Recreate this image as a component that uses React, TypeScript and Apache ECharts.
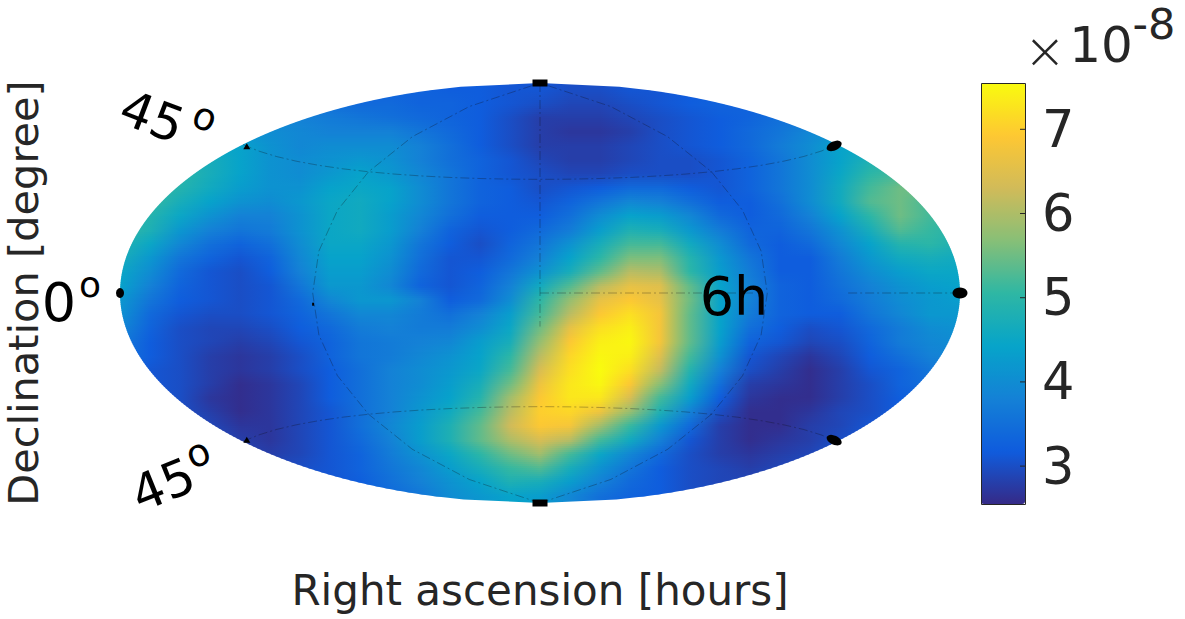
import React, { useEffect, useRef } from "react";
import * as echarts from "echarts";

// Sky map values (units of 1e-9): one row per band, north to south,
// 29 samples per row, west to east across the Hammer ellipse.
const skyRows: number[][] = [
  [33,33,33,33,33,33,33,33,33,33,33,32,32,31,31,30,30,31,31,32,32,32,32,32,32,32,32,32,32],
  [36,36,36,36,36,36,36,35,34,34,33,33,32,31,30,29,29,30,31,32,33,33,34,34,34,34,34,34,34],
  [39,39,39,39,39,39,38,37,36,35,34,33,32,30,28,28,28,29,30,31,32,33,35,36,37,37,37,37,37],
  [42,42,42,42,41,40,39,38,38,38,36,34,32,30,28,27,27,28,30,31,32,34,36,39,41,41,41,41,41],
  [46,46,46,45,44,41,39,40,40,40,38,35,32,30,28,28,28,29,30,31,32,34,37,40,44,45,45,45,45],
  [49,49,48,47,44,41,40,41,42,41,38,35,33,31,29,28,28,29,30,30,31,33,36,40,44,48,50,50,50],
  [50,50,50,47,44,41,40,42,44,42,39,36,33,31,30,29,29,30,30,30,31,33,36,40,45,50,52,52,52],
  [51,51,49,46,43,41,41,44,45,44,40,36,33,32,30,31,32,34,34,32,31,33,36,40,46,52,55,55,55],
  [51,51,47,44,41,40,42,45,46,44,40,36,33,32,31,33,36,39,38,35,32,32,35,40,46,53,55,52,52],
  [50,49,45,41,38,38,41,45,46,43,39,35,32,32,32,35,40,44,43,39,34,32,34,38,44,50,55,52,50],
  [51,48,42,38,36,37,41,45,46,43,38,33,31,32,34,37,43,48,47,42,37,33,33,36,41,47,53,51,49],
  [49,45,39,35,33,35,40,45,45,42,36,32,30,33,36,41,47,52,52,46,40,34,32,34,39,44,49,50,48],
  [47,42,36,33,31,33,39,44,44,41,35,31,31,34,38,44,50,56,56,49,42,36,32,32,37,42,46,47,46],
  [45,40,34,31,30,32,38,43,43,40,34,31,32,36,41,47,54,61,60,50,43,37,32,32,36,40,43,45,45],
  [44,38,33,31,30,31,36,42,42,39,33,31,33,38,46,53,61,66,65,54,44,38,33,32,35,38,41,43,44],
  [42,36,32,31,30,31,34,39,42,42,38,32,34,40,50,58,66,69,66,55,44,38,33,32,34,37,40,42,43],
  [41,34,31,30,30,31,33,36,39,39,37,35,38,43,52,61,69,72,68,54,44,37,33,32,32,36,39,42,42],
  [39,33,30,29,29,30,32,34,37,38,37,37,40,45,55,66,72,74,68,54,44,35,32,30,31,34,37,40,41],
  [37,32,30,29,28,29,31,33,36,37,38,39,43,47,58,69,74,75,68,54,43,33,31,29,30,33,37,39,40],
  [36,32,30,28,27,28,30,33,36,37,39,41,44,50,61,71,75,74,65,52,41,31,29,27,29,32,35,38,39],
  [35,31,30,28,27,28,30,32,35,38,40,42,45,52,64,72,76,72,62,49,38,30,28,26,28,31,33,36,37],
  [34,31,30,28,26,27,29,32,35,38,40,43,47,55,67,73,75,69,57,46,35,28,27,26,28,30,33,35,36],
  [33,31,30,27,26,27,29,32,35,38,41,44,49,59,69,73,73,64,52,43,32,27,26,26,28,30,32,33,33],
  [32,31,30,28,26,27,29,31,35,38,42,46,52,61,70,71,67,58,48,38,30,26,26,27,29,30,32,32,32],
  [32,32,31,29,27,27,29,31,35,39,43,48,54,63,69,68,59,51,42,34,28,26,26,28,29,31,31,31,31],
  [32,32,31,30,28,27,29,31,34,38,43,48,54,60,64,61,52,46,38,31,28,26,27,28,30,31,31,31,31],
  [31,31,31,31,29,28,29,31,33,37,41,45,50,55,59,52,45,39,34,30,28,27,28,29,31,31,31,31,31],
  [31,31,31,31,30,29,30,31,33,36,39,43,47,51,53,47,41,36,32,30,29,28,29,30,31,31,31,31,31],
  [31,31,31,31,31,31,31,31,32,35,38,41,44,48,47,43,38,34,32,30,29,29,30,31,31,31,31,31,31],
  [31,31,31,31,31,31,31,32,33,34,36,40,42,44,43,39,35,33,32,30,30,30,31,31,31,31,31,31,31],
];

const colorStops = ["#352a87", "#0f5cdd", "#1481d6", "#06a4ca", "#2eb7a4", "#87bf77", "#d1bb59", "#fec832", "#f9fb0e"];
const barMin = 2.55;
const barMax = 7.55;
const barTicks = [3, 4, 5, 6, 7];

const gridLongitudes = [-90, 90];
const gridParallels = [45, -45];
const gridStepLats = [-90, -75, -60, -45, -30, -15, 0, 15, 30, 45, 60, 75, 90];
const gridStepLons = [-180, -165, -150, -135, -120, -105, -90, -75, -60, -45, -30, -15, 0, 15, 30, 45, 60, 75, 90, 105, 120, 135, 150, 165, 180];
const centralMeridianLats = [90, 75, 60, 45, 30, 15, 0, -10, -13];
const equatorSegments = [[0, 15, 30, 45, 60, 75, 85], [125, 135, 150, 165, 180]];

const markers = [
  { lon: 0, lat: 90, symbol: "rect", size: [15, 7], rotate: 0 },
  { lon: 0, lat: -90, symbol: "rect", size: [15, 7], rotate: 0 },
  { lon: -180, lat: 0, symbol: "circle", size: [8, 10], rotate: 0 },
  { lon: 180, lat: 0, symbol: "circle", size: [15, 11], rotate: 0 },
  { lon: 177, lat: 45, symbol: "circle", size: [16, 9], rotate: 25 },
  { lon: 177, lat: -45, symbol: "circle", size: [16, 9], rotate: -25 },
  { lon: -176, lat: 45, symbol: "triangle", size: [7, 6], rotate: 0 },
  { lon: -176, lat: -45, symbol: "triangle", size: [7, 6], rotate: 0 },
  { lon: -90, lat: -4, symbol: "rect", size: [2, 3], rotate: 0 },
];

const COLS = 28;
const ROWS = 30;
const SHADE_STEPS = 7;

function hammer(lon: number, lat: number): [number, number] {
  const l = (lon * Math.PI) / 180;
  const p = (lat * Math.PI) / 180;
  const d = Math.sqrt(1 + Math.cos(p) * Math.cos(l / 2));
  const nx = (Math.cos(p) * Math.sin(l / 2)) / d;
  const ny = Math.sin(p) / d;
  return [COLS / 2 + (COLS / 2) * nx, ROWS / 2 - (ROWS / 2) * ny];
}

function hexToRgb(h: string) {
  return [parseInt(h.slice(1, 3), 16), parseInt(h.slice(3, 5), 16), parseInt(h.slice(5, 7), 16)];
}

function rgbOf(v: number) {
  const t = Math.max(0, Math.min(1, (v - barMin) / (barMax - barMin))) * (colorStops.length - 1);
  const i = Math.min(colorStops.length - 2, Math.floor(t));
  const a = hexToRgb(colorStops[i]);
  const b = hexToRgb(colorStops[i + 1]);
  const f = t - i;
  return a.map((c, k) => c + (b[k] - c) * f);
}

function halfWidth(row: number) {
  const r = Math.min(1, Math.abs(row - ROWS / 2) / (ROWS / 2));
  return (COLS / 2) * Math.sqrt(1 - r * r);
}

const gridLine = (data: number[][]) => ({
  type: "line",
  xAxisIndex: 0,
  yAxisIndex: 0,
  data,
  showSymbol: false,
  silent: true,
  z: 3,
  lineStyle: { color: "#101018", width: 0.6, opacity: 0.5, type: [9, 3, 2, 3] },
});

const deg = (x: number, y: number, rot: number, size: number, text: string) => ({
  type: "text",
  x,
  y,
  rotation: (rot * Math.PI) / 180,
  z: 50,
  style: { text, fontSize: size, fontFamily: "DejaVu Sans", fill: "#000", align: "center", verticalAlign: "middle" },
});

const dark = (x: number, y: number, size: number, text: string, family = "DejaVu Sans") => ({
  type: "text",
  x,
  y,
  z: 50,
  style: { text, fontSize: size, fontFamily: family, fill: "#262626", align: "center", verticalAlign: "middle" },
});

export default function App() {
  const ref = useRef<HTMLDivElement>(null);
  useEffect(() => {
    document.body.style.margin = "0";
    const chart = echarts.init(ref.current!, undefined, { renderer: "svg" });
    // Shading bands: each is a thin strip between two table rows, coloured by mixing the two rows' colours.
    const shadeBands: number[][] = [];
    shadeBands.push([0, 0.5, 0, 0, 0]);
    for (let i = 0; i < skyRows.length - 1; i++) {
      for (let s = 0; s < SHADE_STEPS; s++) {
        shadeBands.push([i + 0.5 + s / SHADE_STEPS, i + 0.5 + (s + 1) / SHADE_STEPS, i, i + 1, (s + 0.5) / SHADE_STEPS]);
      }
    }
    shadeBands.push([ROWS - 0.5, ROWS, ROWS - 1, ROWS - 1, 0]);
    const mapSeries = {
      type: "custom",
      xAxisIndex: 0,
      yAxisIndex: 0,
      silent: true,
      z: 2,
      data: shadeBands,
      encode: { x: -1, y: -1 },
      renderItem: (params: any, api: any) => {
        const top = api.value(0);
        const bottom = Math.min(ROWS, api.value(1) + 0.04);
        const a = skyRows[api.value(2)];
        const b = skyRows[api.value(3)];
        const t = api.value(4);
        const left: number[][] = [];
        const right: number[][] = [];
        for (let k = 0; k <= 2; k++) {
          const r = top + ((bottom - top) * k) / 2;
          const h = halfWidth(r);
          left.push(api.coord([COLS / 2 - h, r]));
          right.unshift(api.coord([COLS / 2 + h, r]));
        }
        const x0 = api.coord([0, 0])[0];
        const x1 = api.coord([COLS, 0])[0];
        const fill = new echarts.graphic.LinearGradient(
          x0, 0, x1, 0,
          a.map((v, j) => {
            const ca = rgbOf(v / 10);
            const cb = rgbOf(b[j] / 10);
            const c = ca.map((q, k) => Math.round(q + (cb[k] - q) * t));
            return { offset: j / COLS, color: `rgb(${c.join(",")})` };
          }),
          true
        );
        return { type: "polygon", shape: { points: left.concat(right) }, style: { fill } };
      },
    };
    const markerSeries = {
      type: "scatter",
      xAxisIndex: 0,
      yAxisIndex: 0,
      silent: true,
      z: 4,
      data: markers.map((m) => ({
        value: hammer(m.lon, m.lat),
        symbol: m.symbol,
        symbolSize: m.size,
        symbolRotate: m.rotate,
      })),
      itemStyle: { color: "#000", opacity: 1 },
    };
    const tickSeries = {
      type: "custom",
      xAxisIndex: 1,
      yAxisIndex: 1,
      silent: true,
      z: 30,
      data: barTicks.map((v) => [1, v]),
      renderItem: (params: any, api: any) => {
        const p = api.coord([1, api.value(1)]);
        return {
          type: "line",
          shape: { x1: p[0] - 5, y1: p[1], x2: p[0], y2: p[1] },
          style: { stroke: "#262626", lineWidth: 1 },
        };
      },
    };
    const lines: any[] = [
      ...gridLongitudes.map((lon) => gridLine(gridStepLats.map((lat) => hammer(lon, lat)))),
      ...gridParallels.map((lat) => gridLine(gridStepLons.map((lon) => hammer(lon, lat)))),
      gridLine(centralMeridianLats.map((lat) => hammer(0, lat))),
      ...equatorSegments.map((seg) => gridLine(seg.map((lon) => hammer(lon, 0)))),
    ];
    chart.setOption({
      animation: false,
      grid: [
        { left: 120, top: 83, width: 840, height: 420, outerBoundsMode: "none" },
        { left: 981, top: 83, width: 44, height: 421, outerBoundsMode: "none" },
      ],
      xAxis: [
        {
          type: "value", gridIndex: 0, min: 0, max: COLS,
          axisLine: { show: false }, axisTick: { show: false }, axisLabel: { show: false }, splitLine: { show: false },
          name: "Right ascension [hours]", nameLocation: "middle", nameGap: 87,
          nameTextStyle: { fontSize: 42, fontFamily: "DejaVu Sans", color: "#262626", verticalAlign: "middle" },
        },
        { type: "value", gridIndex: 1, min: 0, max: 1, show: false },
      ],
      yAxis: [
        {
          type: "value", gridIndex: 0, min: 0, max: ROWS, inverse: true,
          axisLine: { show: false }, axisTick: { show: false }, axisLabel: { show: false }, splitLine: { show: false },
          name: "Declination [degree]", nameLocation: "middle", nameGap: 97,
          nameTextStyle: { fontSize: 41.5, fontFamily: "DejaVu Sans", color: "#262626", verticalAlign: "middle" },
        },
        {
          type: "value", gridIndex: 1, min: barMin, max: barMax, position: "right", z: 20,
          splitLine: { show: false },
          axisLine: { show: false },
          axisTick: { show: false },
          axisLabel: { customValues: barTicks, fontSize: 51, fontFamily: "DejaVu Sans", color: "#262626", margin: 17 },
        },
      ],
      visualMap: {
        type: "continuous",
        seriesIndex: [],
        min: barMin,
        max: barMax,
        left: 981,
        top: 83,
        itemWidth: 44,
        itemHeight: 421,
        padding: 0,
        calculable: false,
        inRange: { color: colorStops },
      },
      series: [mapSeries, ...lines, markerSeries, tickSeries],
      graphic: [
        { type: "rect", z: 40, shape: { x: 981.5, y: 83.5, width: 44, height: 421 }, style: { fill: "none", stroke: "#262626", lineWidth: 1 } },
        deg(152, 117, -21, 50, "45"),
        deg(205, 117, -21, 38, "o"),
        deg(163, 485, 22, 50, "45"),
        deg(198, 453, 22, 38, "o"),
        deg(59, 302, 0, 54, "0"),
        deg(90, 284, 0, 36, "o"),
        deg(734, 296, 0, 54, "6h"),
        dark(1045, 51, 50, "×", "DejaVu Sans Light"),
        dark(1101, 45, 50, "10"),
        dark(1154, 24, 43, "-8"),
      ],
    });
    return () => chart.dispose();
  }, []);
  return <div ref={ref} style={{ width: 1185, height: 619 }} />;
}
